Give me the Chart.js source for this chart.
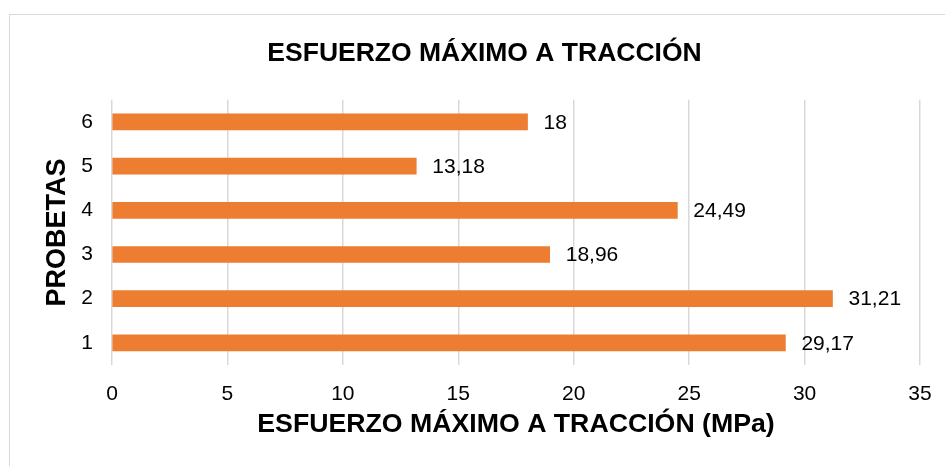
<!DOCTYPE html>
<html>
<head>
<meta charset="utf-8">
<script src="https://cdn.jsdelivr.net/npm/chart.js@4"></script>
<style>
    html, body { margin: 0; padding: 0; background: #fff; overflow: hidden; }
    #frame { position: absolute; left: 9px; top: 14px; width: 960px; height: 480px; border: 1.5px solid #d9d9d9; box-sizing: border-box; }
    #wrap { position: absolute; left: 0; top: 0; width: 945px; height: 466px; }
</style>
</head>
<body>
<div id="frame"></div>
<div id="wrap"><canvas id="myChart"></canvas></div>
<script>
const probetas = ["1", "2", "3", "4", "5", "6"];
const esfuerzo = [29.17, 31.21, 18.96, 24.49, 13.18, 18];
const xTicks = [0, 5, 10, 15, 20, 25, 30, 35];

const FONT = "'Liberation Sans', Arial, sans-serif";

// simple value labels at the end of each bar
const barLabels = {
    id: "barLabels",
    afterDatasetsDraw(chart) {
        const ctx = chart.ctx;
        const meta = chart.getDatasetMeta(0);
        ctx.save();
        ctx.font = "21px " + FONT;
        ctx.fillStyle = "#000";
        ctx.textBaseline = "middle";
        ctx.textAlign = "left";
        meta.data.forEach((bar, i) => {
            const txt = String(esfuerzo[i]).replace(".", ",");
            ctx.fillText(txt, bar.x + 16, bar.y + 1);
        });
        ctx.restore();
    }
};

const ctx = document.getElementById("myChart").getContext("2d");
const myChart = new Chart(ctx, {
    type: "bar",
    data: {
        labels: probetas,
        datasets: [{
            data: esfuerzo,
            backgroundColor: "#ED7D31",
            barThickness: 16,
        }],
    },
    options: {
        indexAxis: "y",
        responsive: true,
        maintainAspectRatio: false,
        animation: false,
        layout: {
            padding: { left: 49, right: 25, top: 0, bottom: 0 },
        },
        scales: {
            x: {
                min: 0,
                max: 35,
                afterBuildTicks: (axis) => { axis.ticks = xTicks.map(v => ({ value: v })); },
                afterFit: (axis) => {
                    axis.height = 101;
                    axis.paddingLeft = 0;
                    axis.paddingRight = 0;
                },
                grid: { color: "#d9d9d9", lineWidth: 1.5, drawTicks: false },
                border: { display: false },
                ticks: { color: "#000", font: { family: FONT, size: 21 }, padding: 17 },
                title: {
                    display: true,
                    text: "ESFUERZO MÁXIMO A TRACCIÓN (MPa)",
                    color: "#000",
                    font: { family: FONT, size: 26.7, weight: "bold" },
                    padding: { top: 0, bottom: 25 },
                },
            },
            y: {
                reverse: true,
                afterFit: (axis) => { axis.width = 63; },
                grid: { display: false },
                border: { display: false },
                ticks: { color: "#000", font: { family: FONT, size: 21 }, padding: 11 },
                title: {
                    display: true,
                    text: "PROBETAS",
                    color: "#000",
                    font: { family: FONT, size: 27, weight: "bold" },
                    padding: { top: -8, bottom: 0 },
                },
            },
        },
        plugins: {
            legend: { display: false },
            tooltip: { enabled: false },
            title: {
                display: true,
                text: "ESFUERZO MÁXIMO A TRACCIÓN",
                color: "#000",
                font: { family: FONT, size: 26.5, weight: "bold" },
                padding: { top: 38, bottom: 30 },
            },
        },
    },
    plugins: [barLabels],
});
</script>
</body>
</html>
